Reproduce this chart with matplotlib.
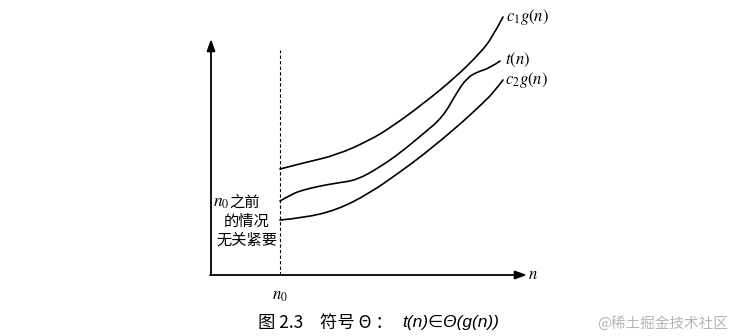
import matplotlib
matplotlib.use('Agg')
import matplotlib.pyplot as plt
from matplotlib.path import Path
from matplotlib.patches import PathPatch

plt.rcParams['mathtext.fontset'] = 'stix'

# curve samples, n along the horizontal axis, value up the vertical axis
c1_n = [69, 92, 126, 159, 179, 212, 246, 269, 281, 292]
c1_v = [106, 112, 120, 135, 147, 171, 199, 222, 237, 258]
t_n = [69, 81, 92, 109, 126, 146, 169, 189, 212, 232, 246, 256, 266, 279, 289]
t_v = [74, 81, 85, 89, 92, 95, 108, 122, 141, 158, 183, 197, 203, 207, 214]
c2_n = [69, 92, 126, 159, 189, 212, 246, 272, 282, 292]
c2_v = [55, 57, 65, 82, 103, 120, 148, 172, 182, 195]

n0 = 69
curve_labels = [r'$c_1g(n)$', r'$t(n)$', r'$c_2g(n)$']
note_lines = ['之前', '的情况', '无关紧要']


def smooth_path(xs, ys):
    """Quadratic B-spline style path: samples act as control points."""
    pts = list(zip(xs, ys))
    verts = [pts[0]]
    codes = [Path.MOVETO]
    for i in range(1, len(pts) - 1):
        mid = ((pts[i][0] + pts[i + 1][0]) / 2, (pts[i][1] + pts[i + 1][1]) / 2)
        if i == len(pts) - 2:
            mid = pts[-1]
        verts += [pts[i], mid]
        codes += [Path.CURVE3, Path.CURVE3]
    return Path(verts, codes)


fig = plt.figure(figsize=(7.42, 3.36), dpi=100)
ax = fig.add_axes([0, 0, 1, 1])
ax.set_xlim(-211, 531)
ax.set_ylim(-61, 275)
ax.axis('off')

# axes with arrows
arr = dict(arrowstyle='-|>,head_length=0.7,head_width=0.25', color='black',
           lw=1.3, shrinkA=0, shrinkB=0)
ax.annotate('', xy=(0, 236), xytext=(0, 0), arrowprops=arr)
ax.annotate('', xy=(316, 0), xytext=(-1, 0), arrowprops=arr)
ax.text(317, 1, r'$n$', fontsize=12, ha='left', va='center')
ax.text(n0, -20, r'$n_0$', fontsize=12, ha='center', va='center')

# n0 marker
ax.plot([n0, n0], [0, 225], color='black', lw=0.8, ls=(0, (3, 2)))

for xs, ys in [(c1_n, c1_v), (t_n, t_v), (c2_n, c2_v)]:
    ax.add_patch(PathPatch(smooth_path(xs, ys), facecolor='none',
                           edgecolor='black', lw=1.2, capstyle='round'))

label_pos = [(295, 258), (294, 215), (294, 195)]
for lab, (x, y) in zip(curve_labels, label_pos):
    ax.text(x, y, lab, fontsize=12, ha='left', va='center')

# note left of n0
cjk = ['Noto Sans CJK SC', 'DejaVu Sans']
ax.text(18, 73, r'$n_0$', fontsize=12.5, ha='right', va='center')
ax.text(18, 73, note_lines[0], fontsize=11, ha='left', va='center', family=cjk)
ax.text(36, 54, note_lines[1], fontsize=11, ha='center', va='center', family=cjk)
ax.text(36, 35, note_lines[2], fontsize=11, ha='center', va='center', family=cjk)

# caption
ax.text(47, -48, '图 2.3', fontsize=12.5, ha='left', va='center',
        family=cjk, weight='medium')
ax.text(109, -48, '符号 Θ ：', fontsize=12.5, ha='left', va='center',
        family=cjk, weight='medium')
ax.text(191, -48, 't(n)∈Θ(g(n))', fontsize=12.5, ha='left', va='center',
        family=['Liberation Sans', 'DejaVu Sans'], style='italic')
ax.text(386, -48, '@稀土掘金技术社区', fontsize=10.5, ha='left', va='center',
        family=cjk, color='#b5b5b5')

fig.savefig('out.png', dpi=100, facecolor='white')
plt.close(fig)
